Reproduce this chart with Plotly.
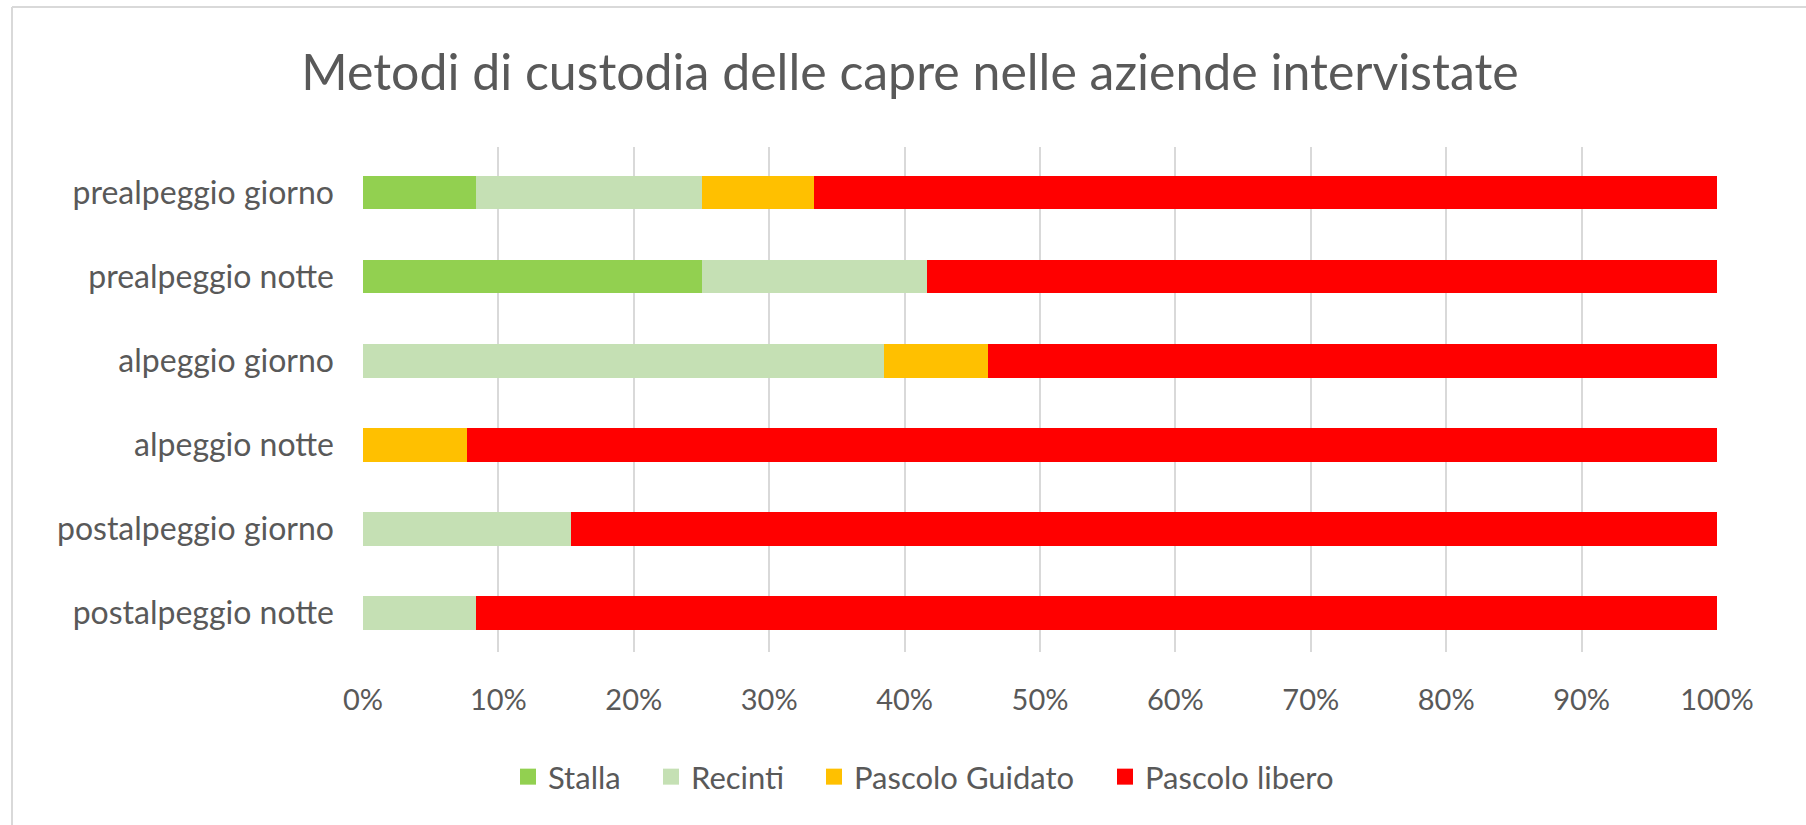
import plotly.graph_objects as go

categories = ["prealpeggio giorno", "prealpeggio notte", "alpeggio giorno",
              "alpeggio notte", "postalpeggio giorno", "postalpeggio notte"]
series_names = ["Stalla", "Recinti", "Pascolo Guidato", "Pascolo libero"]
stalla = [0.0833, 0.25, 0.0, 0.0, 0.0, 0.0]
recinti = [0.1667, 0.1667, 0.3846, 0.0, 0.1538, 0.0833]
pascolo_guidato = [0.0833, 0.0, 0.0769, 0.0769, 0.0, 0.0]
pascolo_libero = [0.6667, 0.5833, 0.5385, 0.9231, 0.8462, 0.9167]
colors = ["#92D050", "#C5E0B4", "#FFC000", "#FF0000"]
tick_vals = [i / 10 for i in range(11)]

W, H = 1806, 825
ml, mr, mt, mb = 363, 89, 147, 173
pw, ph = W - ml - mr, H - mt - mb
TXT = "#595959"
FONT = "Lato"

def px_x(p):
    return (p - ml) / pw

def px_y(p):
    return (H - mb - p) / ph

legend_square_left = [519, 662, 825, 1116]
legend_ids = ["legend", "legend2", "legend3", "legend4"]

fig = go.Figure()
for name, vals, col, lid in zip(series_names,
                                [stalla, recinti, pascolo_guidato, pascolo_libero],
                                colors, legend_ids):
    fig.add_trace(go.Bar(y=categories, x=vals, name=name, orientation="h",
                         marker=dict(color=col, line=dict(width=0)),
                         showlegend=False))
    fig.add_trace(go.Scatter(x=[None], y=[None], mode="markers", name=name,
                             marker=dict(symbol="square", size=19, color=col),
                             showlegend=True, legend=lid))

legend_layout = {}
for lid, sq in zip(legend_ids, legend_square_left):
    legend_layout[lid] = dict(orientation="h", x=px_x(sq - 11), xanchor="left",
                              y=px_y(777), yanchor="middle",
                              font=dict(family=FONT, size=31, color=TXT),
                              bgcolor="rgba(0,0,0,0)", borderwidth=0)

n = len(categories)
fig.update_layout(
    width=W, height=H,
    margin=dict(l=ml, r=mr, t=mt, b=mb),
    paper_bgcolor="white", plot_bgcolor="white",
    barmode="stack", bargap=0.6,
    font=dict(family=FONT, color=TXT),
    title=dict(text="Metodi di custodia delle capre nelle aziende intervistate",
               font=dict(family=FONT, size=50, color=TXT),
               x=910 / W, xanchor="center", xref="container",
               y=1 - 72 / H, yanchor="middle", yref="container"),
    xaxis=dict(range=[0, 1], tickvals=tick_vals, tickformat=".0%",
               showgrid=True, gridcolor="#D9D9D9", gridwidth=2,
               zeroline=False, showline=False, ticks="",
               tickfont=dict(family=FONT, size=29, color=TXT),
               ticklabelstandoff=28, fixedrange=True),
    yaxis=dict(categoryorder="array", categoryarray=categories,
               range=[n - 0.5 - 0.04, -0.5 - 0.04],
               showgrid=False, zeroline=False, showline=False, ticks="",
               tickfont=dict(family=FONT, size=32, color=TXT),
               ticklabelstandoff=28, fixedrange=True),
    shapes=[
        dict(type="line", xref="paper", yref="paper",
             x0=px_x(12), x1=px_x(12), y0=px_y(7), y1=px_y(H + 5),
             line=dict(color="#D9D9D9", width=2)),
        dict(type="line", xref="paper", yref="paper",
             x0=px_x(12), x1=px_x(W + 5), y0=px_y(7), y1=px_y(7),
             line=dict(color="#D9D9D9", width=2)),
    ],
    **legend_layout,
)

fig.write_html("out.html", config={"displayModeBar": False},
               post_script="document.body.style.margin='0';document.body.style.overflow='hidden';")
